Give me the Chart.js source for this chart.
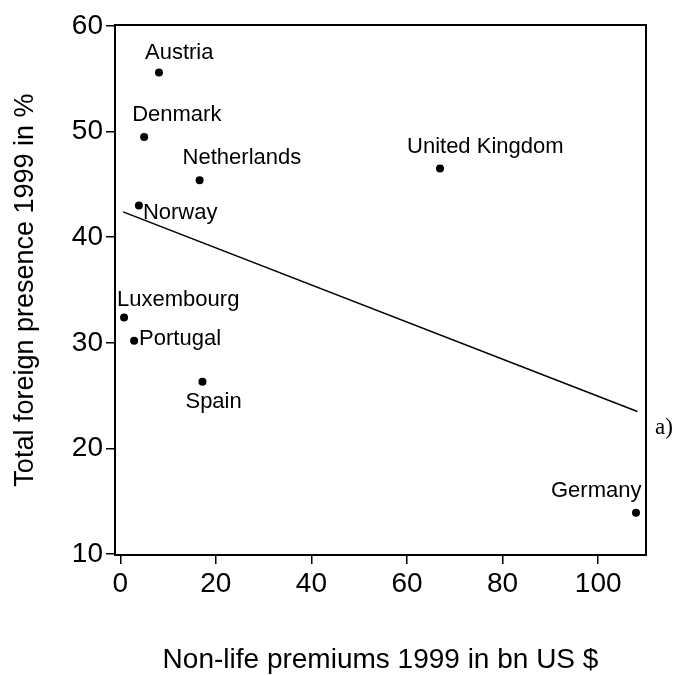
<!DOCTYPE html>
<html>
<head>
<meta charset="utf-8">
<script src="https://cdn.jsdelivr.net/npm/chart.js@4.4.1/dist/chart.umd.min.js"></script>
<style>
  body { margin: 0; background: #fff; }
  #wrap { width: 676px; height: 675px; position: relative; }
</style>
</head>
<body>
<div id="wrap"><canvas id="scatter"></canvas></div>
<script>
// data
const countries = ['Austria', 'Denmark', 'Netherlands', 'Norway', 'Luxembourg', 'Portugal', 'Spain', 'United Kingdom', 'Germany'];
const premiums = [8.1, 5.0, 16.6, 3.9, 0.8, 2.9, 17.2, 66.9, 107.9];
const presence = [55.6, 49.5, 45.4, 43.0, 32.4, 30.2, 26.3, 46.5, 13.9];
const fitX = [0.6, 108.2];
const fitY = [42.4, 23.5];
const xTicks = [0, 20, 40, 60, 80, 100];
const yTicks = [10, 20, 30, 40, 50, 60];

// where each country name sits relative to its dot (left edge, baseline)
const labelOffsets = [[-14, -14], [-12, -16], [-17, -16], [4, 13], [-7, -11], [5, 4], [-17, 26], [-33, -16], [-85, -16]];

const font = "'Liberation Sans', Arial, sans-serif";

const labelsAndFrame = {
    id: 'labelsAndFrame',
    afterDatasetsDraw(chart) {
        const ctx = chart.ctx;
        const meta = chart.getDatasetMeta(0);
        ctx.save();
        ctx.fillStyle = '#000';
        ctx.font = '22px ' + font;
        ctx.textBaseline = 'alphabetic';
        ctx.textAlign = 'left';
        meta.data.forEach((pt, i) => {
            ctx.fillText(countries[i], pt.x + labelOffsets[i][0], pt.y + labelOffsets[i][1]);
        });
        // frame
        const a = chart.chartArea;
        ctx.strokeStyle = '#000';
        ctx.lineWidth = 2;
        ctx.strokeRect(a.left, a.top, a.right - a.left, a.bottom - a.top);
        // panel tag
        ctx.font = "23px 'Liberation Serif', 'Times New Roman', serif";
        ctx.fillText('a)', a.right + 9, 434);
        ctx.restore();
    }
};

const tickGrid = { display: true, drawOnChartArea: false, drawTicks: true, tickLength: 9, color: '#000', lineWidth: 1.5 };

new Chart(document.getElementById('scatter'), {
    type: 'scatter',
    data: {
        datasets: [{
            data: premiums.map((x, i) => ({ x: x, y: presence[i] })),
            pointRadius: 4,
            pointBackgroundColor: '#000',
            pointBorderWidth: 0
        }, {
            type: 'line',
            data: fitX.map((x, i) => ({ x: x, y: fitY[i] })),
            borderColor: '#000',
            borderWidth: 1.6,
            pointRadius: 0,
            fill: false
        }]
    },
    options: {
        responsive: true,
        maintainAspectRatio: false,
        animation: false,
        layout: { padding: { left: 0, right: 30, top: 25, bottom: 0 } },
        plugins: { legend: { display: false }, tooltip: { enabled: false } },
        scales: {
            x: {
                type: 'linear',
                min: -1.1,
                max: 110,
                afterBuildTicks: s => { s.ticks = xTicks.map(v => ({ value: v })); },
                afterFit: s => { s.height = 120; },
                grid: tickGrid,
                border: { display: false },
                ticks: { color: '#000', padding: 3, font: { family: font, size: 28 } },
                title: { display: true, text: 'Non-life premiums 1999 in bn US $', color: '#000', padding: { top: 0, bottom: -2 }, font: { family: font, size: 28 } }
            },
            y: {
                type: 'linear',
                min: 9.9,
                max: 60.1,
                afterBuildTicks: s => { s.ticks = yTicks.map(v => ({ value: v })); },
                afterFit: s => { s.width = 115; },
                grid: tickGrid,
                border: { display: false },
                ticks: { color: '#000', padding: 3, font: { family: font, size: 28 } },
                title: { display: true, text: 'Total foreign presence 1999 in %', color: '#000', padding: { top: 9, bottom: 0 }, font: { family: font, size: 27 } }
            }
        }
    },
    plugins: [labelsAndFrame]
});
</script>
</body>
</html>
